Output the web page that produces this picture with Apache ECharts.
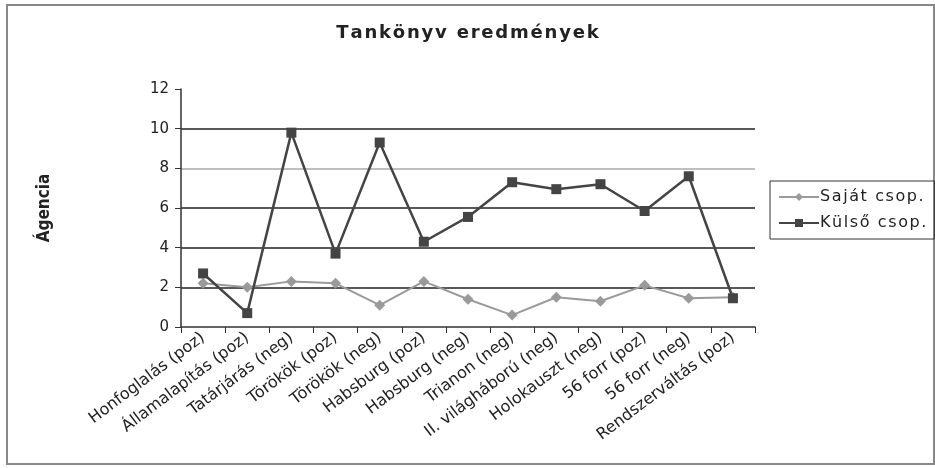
<!DOCTYPE html>
<html>
<head>
<meta charset="utf-8">
<script src="https://cdn.jsdelivr.net/npm/echarts@6/dist/echarts.min.js"></script>
<style>html,body{margin:0;padding:0;background:#fff;}#c{width:935px;height:468px;}</style>
</head>
<body>
<div id="c"></div>
<script>
const categories = ['Honfoglalás (poz)', 'Államalapítás (poz)', 'Tatárjárás (neg)', 'Törökök (poz)', 'Törökök (neg)', 'Habsburg (poz)', 'Habsburg (neg)', 'Trianon (neg)', 'II. világháború (neg)', 'Holokauszt (neg)', '56 forr (poz)', '56 forr (neg)', 'Rendszerváltás (poz)'];
const sajat = [2.2, 2.0, 2.3, 2.2, 1.1, 2.3, 1.4, 0.6, 1.5, 1.3, 2.1, 1.45, 1.5];
const kulso = [2.7, 0.7, 9.8, 3.7, 9.3, 4.3, 5.55, 7.3, 6.95, 7.2, 5.85, 7.6, 1.45];
const seriesNames = ['Saját csop.', 'Külső csop.'];
const titleText = 'Tankönyv eredmények';
const yTitle = 'Ágencia';

function spaced(s, sp) { return Array.from(s).join(sp); }

const chart = echarts.init(document.getElementById('c'));
chart.setOption({
  animation: false,
  backgroundColor: '#fff',
  title: {
    text: spaced(titleText, '\u200A'),
    left: 'center', top: 19,
    textStyle: { fontFamily: 'DejaVu Sans', fontWeight: 'bold', fontSize: 18, color: '#222' }
  },
  graphic: [{
    type: 'rect', z: -1, silent: true,
    shape: { x: 7, y: 5, width: 927, height: 459 },
    style: { fill: 'none', stroke: '#888', lineWidth: 2 }
  }],
  legend: {
    orient: 'vertical', left: 770, top: 181,
    borderColor: '#333', borderWidth: 1,
    padding: [8, 8, 8, 8], itemGap: 10,
    itemWidth: 40, itemHeight: 10,
    data: seriesNames,
    formatter: n => spaced(n, '\u200A'),
    textStyle: { fontFamily: 'DejaVu Sans', fontSize: 16, color: '#222', padding: [0, 0, 0, -4] }
  },
  grid: { left: 181, right: 180, top: 89, bottom: 141 },
  xAxis: {
    type: 'category', data: categories, boundaryGap: true,
    axisLine: { lineStyle: { color: '#333', width: 1.5 } },
    axisTick: { show: true, length: 6, lineStyle: { color: '#333' } },
    axisLabel: { interval: 0, rotate: 37, margin: 9, fontFamily: 'DejaVu Sans', fontSize: 16, color: '#222' }
  },
  yAxis: {
    type: 'value', min: 0, max: 12, interval: 2,
    name: yTitle, nameLocation: 'middle', nameRotate: 90, nameGap: 128,
    nameTextStyle: { fontFamily: 'DejaVu Sans Condensed', fontWeight: 'bold', fontSize: 17, color: '#222' },
    axisLine: { show: true, lineStyle: { color: '#333', width: 1.5 } },
    axisTick: { show: true, length: 6, lineStyle: { color: '#333' } },
    axisLabel: { fontFamily: 'DejaVu Sans', fontSize: 15, color: '#222', margin: 12 },
    splitLine: { show: true, showMinLine: false, showMaxLine: false,
      lineStyle: { color: ['#222', '#222', '#222', '#aaa', '#222', '#222'], width: 1.5 } }
  },
  series: [
    { name: seriesNames[0], type: 'line', data: sajat, symbol: 'diamond', symbolSize: 11,
      itemStyle: { color: '#9a9a9a' }, lineStyle: { color: '#9a9a9a', width: 2 } },
    { name: seriesNames[1], type: 'line', data: kulso, symbol: 'rect', symbolSize: 10,
      itemStyle: { color: '#444' }, lineStyle: { color: '#444', width: 2.5 } }
  ]
});
</script>
</body>
</html>
